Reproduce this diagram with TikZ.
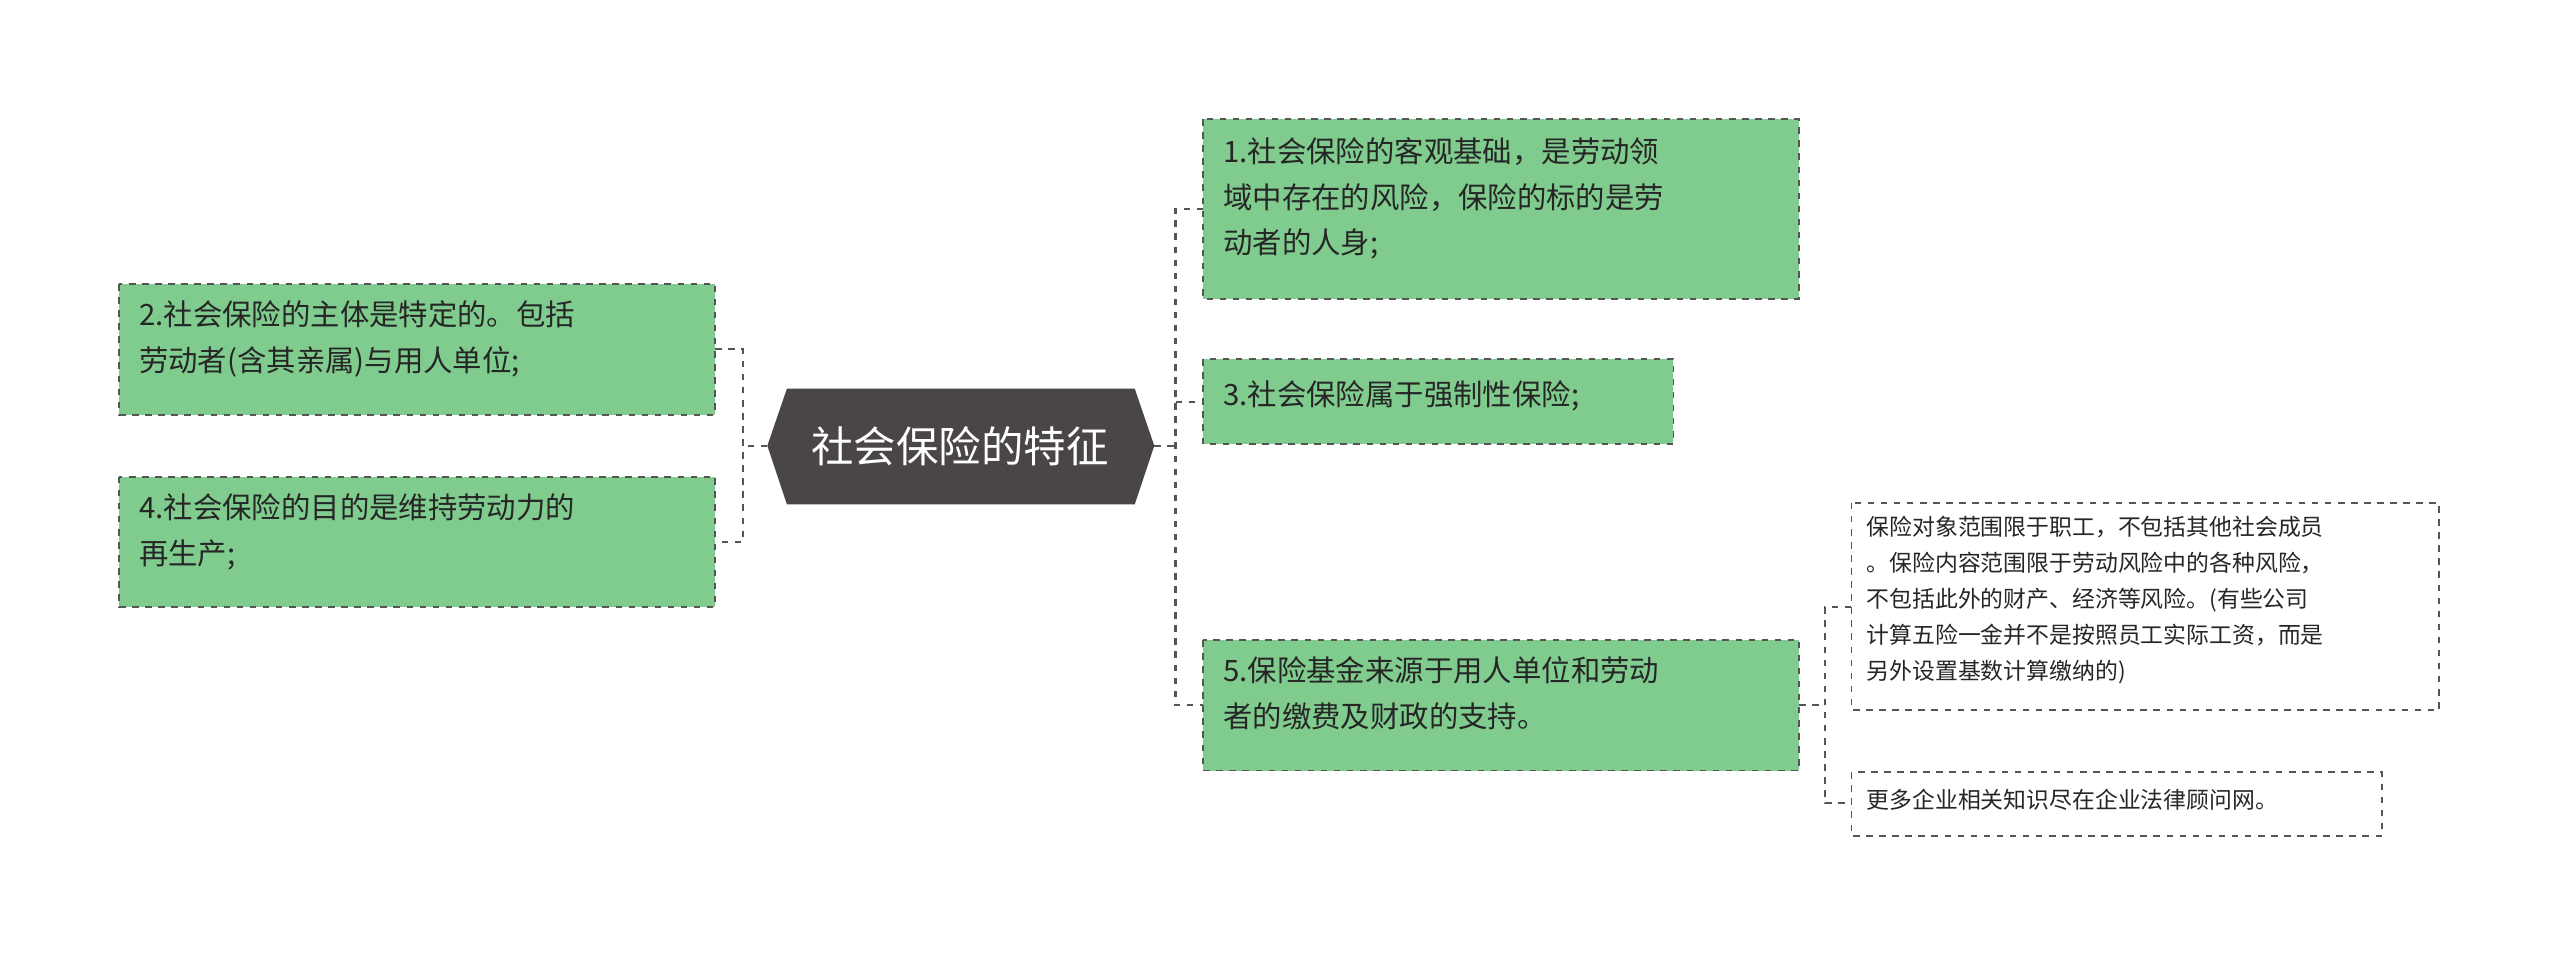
\documentclass[tikz,border=0pt]{standalone}
\usepackage{fontspec}
\setmainfont{Noto Sans CJK SC}
\definecolor{gfill}{HTML}{80CC8E}
\definecolor{dk}{HTML}{4A4546}
\definecolor{ln}{HTML}{555555}
\begin{document}
\begin{tikzpicture}[x=0.75pt,y=-0.75pt,
  gbox/.style={draw=ln,dashed,fill=gfill,line width=0.8pt},
  wbox/.style={draw=ln,dashed,fill=white,line width=0.8pt},
  gtxt/.style={anchor=north west,align=left,font=\fontsize{13.5}{21}\selectfont,text=black!85,inner sep=0pt},
  wtxt/.style={anchor=north west,align=left,font=\fontsize{10.5}{16.5}\selectfont,text=black!85,inner sep=0pt},
  conn/.style={draw=ln,dashed,line width=1pt}]
\useasboundingbox (0,0) rectangle (1568,586);
\fill[white] (0,0) rectangle (1568,586);
% center
\fill[dk] (470,273)--(482,238)--(695,238)--(707,273)--(695,309)--(482,309)--cycle;
\node[text=white,font=\fontsize{19.5}{22}\selectfont] (c) at (588,273) {社会保险的特征};
\coordinate (cl) at (470,273); \coordinate (cr) at (707,273);
% boxes
\draw[gbox] (73,174) rectangle (438,254); \node[gtxt] (b2) at (85,184) {2.社会保险的主体是特定的。包括\\劳动者(含其亲属)与用人单位;};
\draw[gbox] (73,292) rectangle (438,372); \node[gtxt] (b4) at (85,302) {4.社会保险的目的是维持劳动力的\\再生产;};
\draw[gbox] (737,73) rectangle (1102,183); \node[gtxt] (b1) at (749,84) {1.社会保险的客观基础，是劳动领\\域中存在的风险，保险的标的是劳\\动者的人身;};
\draw[gbox] (737,220) rectangle (1025,272); \node[gtxt] (b3) at (749,233) {3.社会保险属于强制性保险;};
\draw[gbox] (737,392) rectangle (1102,472); \node[gtxt] (b5) at (749,402) {5.保险基金来源于用人单位和劳动\\者的缴费及财政的支持。};
\draw[wbox] (1134,308) rectangle (1494,435); \node[wtxt] (s1) at (1143,316) {保险对象范围限于职工，不包括其他社会成员\\。保险内容范围限于劳动风险中的各种风险，\\不包括此外的财产、经济等风险。(有些公司\\计算五险一金并不是按照员工实际工资，而是\\另外设置基数计算缴纳的)};
\draw[wbox] (1134,473) rectangle (1459,512); \node[wtxt] (s2) at (1143,483) {更多企业相关知识尽在企业法律顾问网。};
% anchors
\coordinate (b2e) at (438,214); \coordinate (b4e) at (438,332);
\coordinate (b1w) at (737,128); \coordinate (b3w) at (737,246); \coordinate (b5w) at (737,432);
\coordinate (b5e) at (1102,432); \coordinate (s1w) at (1134,372); \coordinate (s2w) at (1134,492);
% connectors
\draw[conn] (cl) -- (455,273);
\draw[conn] (b2e) -- (455,214) -- (455,332) -- (b4e);
\draw[conn] (cr) -- (720,273);
\draw[conn] (b1w) -- (720,128) -- (720,432) -- (b5w);
\draw[conn] (720,246) -- (b3w);
\draw[conn] (b5e) -- (1118,432);
\draw[conn] (s1w) -- (1118,372) -- (1118,492) -- (s2w);
\end{tikzpicture}
\end{document}
